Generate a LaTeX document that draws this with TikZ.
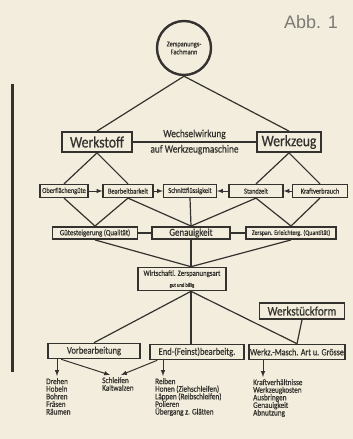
\documentclass[tikz,border=0pt]{standalone}
\usepackage{fontspec}
\setmainfont{Carlito}[FakeStretch=0.85,FakeBold=0.5]
\newfontfamily\abbfont{Liberation Sans}
\usetikzlibrary{calc}

\definecolor{paper}{RGB}{242,237,220}
\definecolor{ink}{RGB}{52,50,46}

\begin{document}
\begin{tikzpicture}[x=1pt,y=-1pt]
      \tikzstyle{main}=[rectangle, draw=ink, line width=1.6pt, text=ink, inner sep=1pt]
      \tikzstyle{big}=[main, line width=1.8pt, minimum height=20pt, font=\fontsize{16}{16}\selectfont]
      \tikzstyle{small}=[main, line width=1.2pt, minimum height=13pt, font=\fontsize{7.5}{7.5}\selectfont]
      \tikzstyle{mid}=[main, line width=1.9pt, minimum height=12pt]
      \tikzstyle{low}=[main, minimum height=15pt, font=\fontsize{10}{10}\selectfont]
      \tikzstyle{list}=[anchor=north west, align=left, inner sep=0pt, text=ink, font=\fontsize{8.5}{7.6}\selectfont]
      \tikzstyle{connect}=[draw=ink, line width=1.2pt]
      \tikzstyle{flow}=[-latex, draw=ink, line width=1pt]

      % paper and margins
      \fill[paper] (0,0) rectangle (353,439);
      \useasboundingbox (0,0) rectangle (353,439);

      \node[text=ink!65, font=\abbfont\fontsize{18}{18}\selectfont] (abb) at (311,22) {Abb. 1};
      \fill[ink] (10.5,84) rectangle (13.5,372);

      \node[circle, draw=ink, line width=2.4pt, minimum size=54pt, inner sep=0pt, align=center, text=ink,
            font=\fontsize{7.5}{8}\selectfont] (fach) at (184,48) {Zerspanungs-\\Fachmann};

      \node[big, minimum width=70pt] (stoff) at (97,142) {Werkstoff};
      \node[big, minimum width=64pt] (zeug) at (289,142) {Werkzeug};

      % row of properties
      \node[small, minimum width=48pt] (ober) at (64,191) {Oberflächengüte};
      \node[small, minimum width=50pt] (bearb) at (128,191) {Bearbeitbarkeit};
      \node[small, minimum width=53pt] (schnitt) at (190,191) {Schnittflüssigkeit};
      \node[small, minimum width=54pt] (stand) at (256,191) {Standzeit};
      \node[small, minimum width=55pt] (kraft) at (320,191) {Kraftverbrauch};

      \node[mid, minimum width=85pt, font=\fontsize{8}{8}\selectfont] (guete) at (95,233) {Gütesteigerung (Qualität)};
      \node[mid, minimum width=78pt, font=\fontsize{10.5}{10.5}\selectfont] (genau) at (191,233) {Genauigkeit};
      \node[mid, minimum width=90pt, font=\fontsize{7}{7}\selectfont] (zersp) at (291,233) {Zerspan. Erleichterg. (Quantität)};

      \node[main, minimum width=88pt, minimum height=23pt, align=center] (wirt) at (182,279)
            {\fontsize{8}{8.5}\selectfont Wirtschaftl. Zerspanungsart\\[-1pt]\fontsize{5.5}{5.5}\selectfont gut und billig};
      \node[main, minimum width=85pt, minimum height=16pt, font=\fontsize{13}{13}\selectfont] (werkst) at (302,311) {Werkstückform};

      \node[low, minimum width=92pt] (vorb) at (94,351) {Vorbearbeitung};
      \node[low, minimum width=94pt] (end) at (197,352) {End-(Feinst)bearbeitg.};
      \node[low, minimum width=96pt, font=\fontsize{9.5}{9.5}\selectfont] (werkz) at (297,352) {Werkz.-Masch. Art u. Grösse};

      \node[list] (dreh) at (46,378) {Drehen\\Hobeln\\Bohren\\Fräsen\\Räumen};
      \node[list] (schleif) at (102,377) {Schleifen\\Kaltwalzen};
      \node[list] (reib) at (155,378) {Reiben\\Honen (Ziehschleifen)\\Läppen (Reibschleifen)\\Polieren\\Übergang z. Glätten};
      \node[list] (kraftv) at (253,379) {Kraftverhältnisse\\Werkzeugkosten\\Ausbringen\\Genauigkeit\\Abnutzung};

      % connections
      \path (fach.south) edge [connect] (stoff.north)
            (fach.south) edge [connect] (zeug.north);
      \draw[connect] (stoff) -- node[above=-1pt, text=ink, font=\fontsize{11}{11}\selectfont] {Wechselwirkung}
            node[below=-1pt, text=ink, font=\fontsize{11}{11}\selectfont] {auf Werkzeugmaschine} (zeug);

      \path (stoff.south) edge [connect] (ober.north)
            (stoff.south) edge [connect] (bearb.north)
            (zeug.south) edge [connect] (stand.north)
            (zeug.south) edge [connect] (kraft.north);

      \path (ober) edge [flow] (bearb)
            (bearb) edge [flow] (schnitt)
            (stand) edge [flow] (schnitt)
            (kraft) edge [flow] (stand);

      \path (ober.south) edge [connect] (guete.north)
            (bearb.south) edge [connect] (guete.north)
            (bearb.south) edge [connect] (genau.north)
            (schnitt.south) edge [connect] (genau.north)
            (stand.south) edge [connect] (genau.north)
            (stand.south) edge [connect] (zersp.north)
            (kraft.south) edge [connect] (zersp.north);

      \path (guete) edge [connect] (genau)
            (genau) edge [connect] (zersp);

      \path (guete.south) edge [connect] (wirt.north -| genau.south)
            (genau.south) edge [connect] (wirt.north -| genau.south)
            (zersp.south) edge [connect] (wirt.north -| genau.south);

      \path (wirt.south -| genau.south) edge [connect] (vorb.north)
            (wirt.south -| genau.south) edge [connect] (end.north -| genau.south)
            (wirt.south -| genau.south) edge [connect] (werkz.north)
            (werkst.south) edge [connect] (werkz.north);

      % arrows down to the lists
      \coordinate (drehtip) at ($(dreh.north west)+(11,-2)$);
      \coordinate (reibtip) at ($(reib.north west)+(8,-2)$);
      \coordinate (krafttip) at ($(kraftv.north west)+(10,-2)$);
      \draw[flow] (vorb.south -| drehtip) -- (drehtip);
      \draw[flow] ($(vorb.south west)+(14,0)$) -- ($(schleif.north west)+(8,-2)$);
      \draw[flow] ($(end.south west)+(8,0)$) -- ($(schleif.north west)+(19,-2)$);
      \draw[flow] (end.south -| reibtip) -- (reibtip);
      \draw[flow] (werkz.south -| krafttip) -- (krafttip);
\end{tikzpicture}
\end{document}
